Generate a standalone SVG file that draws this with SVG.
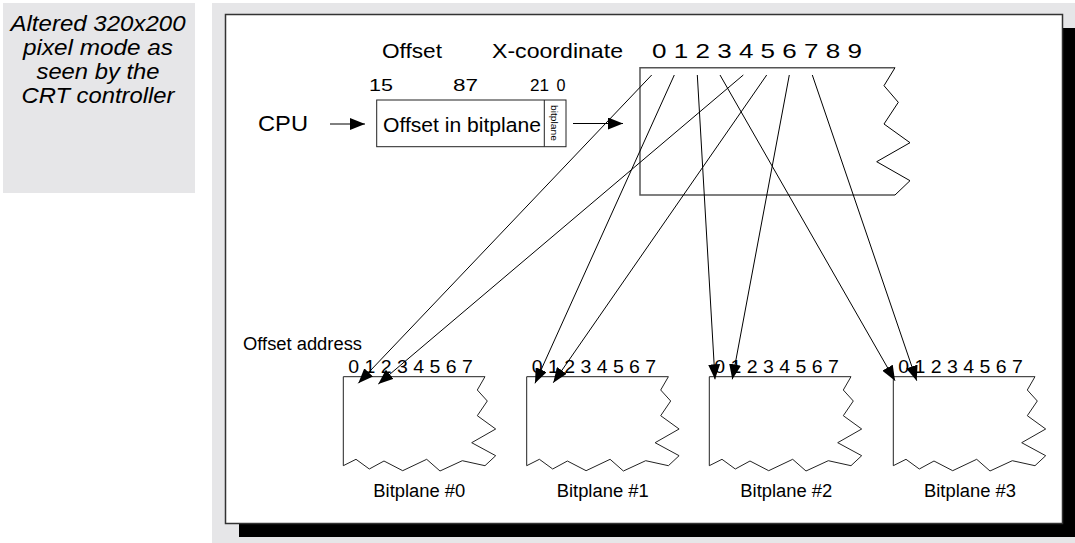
<svg xmlns="http://www.w3.org/2000/svg" width="1075" height="543" viewBox="0 0 1075 543">
<style>
text{font-family:"Liberation Sans",Arial,Helvetica,sans-serif;fill:#000}
.cap{font-style:italic;font-size:22px}
.big{font-size:21px}
.mid{font-size:18px}
.dg{font-size:18px}
.sm{font-size:17px}
.bp{fill:#fff;stroke:#222;stroke-width:1}
.ln{stroke:#000;stroke-width:1;fill:none}
</style>
<defs>
<marker id="ah" markerUnits="userSpaceOnUse" markerWidth="15" markerHeight="12" refX="15" refY="6" orient="auto">
<path d="M0,0 L15,6 L0,12 z" fill="#000"/>
</marker>
<polygon id="plane" points="0,0 141.7,0 134,13.3 144,24.3 134,39 152.4,52.3 128.4,66 152.4,79 141.7,89 119,84 96.7,94.3 83.4,82.6 59.4,94 40.7,84.3 26,92.3 12.7,82.6 0,89"/>
</defs>
<rect x="3" y="3" width="192" height="190" fill="#e6e6e8"/>
<g id="caption" text-anchor="middle">
<text class="cap" x="98" y="31" textLength="175" lengthAdjust="spacingAndGlyphs">Altered 320x200</text>
<text class="cap" x="98" y="55" textLength="150" lengthAdjust="spacingAndGlyphs">pixel mode as</text>
<text class="cap" x="98" y="79" textLength="123" lengthAdjust="spacingAndGlyphs">seen by the</text>
<text class="cap" x="98" y="103" textLength="153" lengthAdjust="spacingAndGlyphs">CRT controller</text>
</g>
<rect x="212" y="3" width="863" height="540" fill="#e6e6e8"/>
<rect x="239" y="28" width="837" height="509" fill="#000"/>
<rect x="225.5" y="14.5" width="837" height="509" fill="#fff" stroke="#333" stroke-width="1.5"/>
<g id="labels">
<text class="big" x="382" y="58" textLength="60" lengthAdjust="spacingAndGlyphs">Offset</text>
<text class="big" x="492" y="58" textLength="131" lengthAdjust="spacingAndGlyphs">X-coordinate</text>
<text class="big" x="652" y="58" textLength="210" lengthAdjust="spacingAndGlyphs">0 1 2 3 4 5 6 7 8 9</text>
<text class="sm" x="369" y="91" textLength="24" lengthAdjust="spacingAndGlyphs">15</text>
<text class="sm" x="453" y="91" textLength="25" lengthAdjust="spacingAndGlyphs">87</text>
<text class="sm" x="530" y="91" textLength="19" lengthAdjust="spacingAndGlyphs">21</text>
<text class="sm" x="556.5" y="91" textLength="9" lengthAdjust="spacingAndGlyphs">0</text>
<text x="258" y="131" style="font-size:22px" textLength="50" lengthAdjust="spacingAndGlyphs">CPU</text>
<text class="mid" x="243" y="350" textLength="119" lengthAdjust="spacingAndGlyphs">Offset address</text>
</g>
<g id="register">
<rect x="376.7" y="100" width="189.3" height="46.7" fill="#fff" stroke="#222" stroke-width="1"/>
<line x1="544.3" y1="100" x2="544.3" y2="146.7" stroke="#222" stroke-width="1"/>
<text x="383" y="132" style="font-size:20.5px" textLength="158" lengthAdjust="spacingAndGlyphs">Offset in bitplane</text>
<text x="550.5" y="123" style="font-size:9px" text-anchor="middle" transform="rotate(90 550.5 123)" textLength="36" lengthAdjust="spacingAndGlyphs">bitplane</text>
</g>
<g id="screen">
<polyline points="895,67.7 640,67.7 640,195 895,195" fill="none" stroke="#555" stroke-width="1.5"/>
<polyline points="895,67.7 884,85.7 898.3,102.3 884,124 910,142.7 876.7,161.7 910,180.7 895,195" fill="none" stroke="#000" stroke-width="1"/>
</g>
<g id="bitplane0">
<use href="#plane" x="343.3" y="376.7" class="bp"/>
<text class="dg" x="348.3" y="372.5" textLength="124.5" lengthAdjust="spacingAndGlyphs">0 1 2 3 4 5 6 7</text>
<text class="mid" x="419.3" y="496.7" text-anchor="middle" textLength="92" lengthAdjust="spacingAndGlyphs">Bitplane #0</text>
</g>
<g id="bitplane1">
<use href="#plane" x="526.7" y="376.7" class="bp"/>
<text class="dg" x="531.7" y="372.5" textLength="124.5" lengthAdjust="spacingAndGlyphs">0 1 2 3 4 5 6 7</text>
<text class="mid" x="602.7" y="496.7" text-anchor="middle" textLength="92" lengthAdjust="spacingAndGlyphs">Bitplane #1</text>
</g>
<g id="bitplane2">
<use href="#plane" x="709.3" y="376.7" class="bp"/>
<text class="dg" x="714.3" y="372.5" textLength="124.5" lengthAdjust="spacingAndGlyphs">0 1 2 3 4 5 6 7</text>
<text class="mid" x="786.3" y="496.7" text-anchor="middle" textLength="92" lengthAdjust="spacingAndGlyphs">Bitplane #2</text>
</g>
<g id="bitplane3">
<use href="#plane" x="893.3" y="376.7" class="bp"/>
<text class="dg" x="898.3" y="372.5" textLength="124.5" lengthAdjust="spacingAndGlyphs">0 1 2 3 4 5 6 7</text>
<text class="mid" x="970" y="496.7" text-anchor="middle" textLength="92" lengthAdjust="spacingAndGlyphs">Bitplane #3</text>
</g>
<g id="connectors" class="ln" marker-end="url(#ah)">
<line x1="330" y1="124" x2="365" y2="124"/>
<line x1="573" y1="123.5" x2="623" y2="123.5"/>
<line x1="651.7" y1="75" x2="358.3" y2="383.3"/>
<line x1="743.3" y1="75" x2="378.3" y2="384"/>
<line x1="674.3" y1="75" x2="535" y2="383.3"/>
<line x1="766.7" y1="75" x2="553.3" y2="382.7"/>
<line x1="697.3" y1="75" x2="715" y2="379.3"/>
<line x1="789.3" y1="75" x2="732.3" y2="379.3"/>
<line x1="720" y1="75" x2="895" y2="380.7"/>
<line x1="812.3" y1="75" x2="916.7" y2="380.7"/>
</g>
</svg>
